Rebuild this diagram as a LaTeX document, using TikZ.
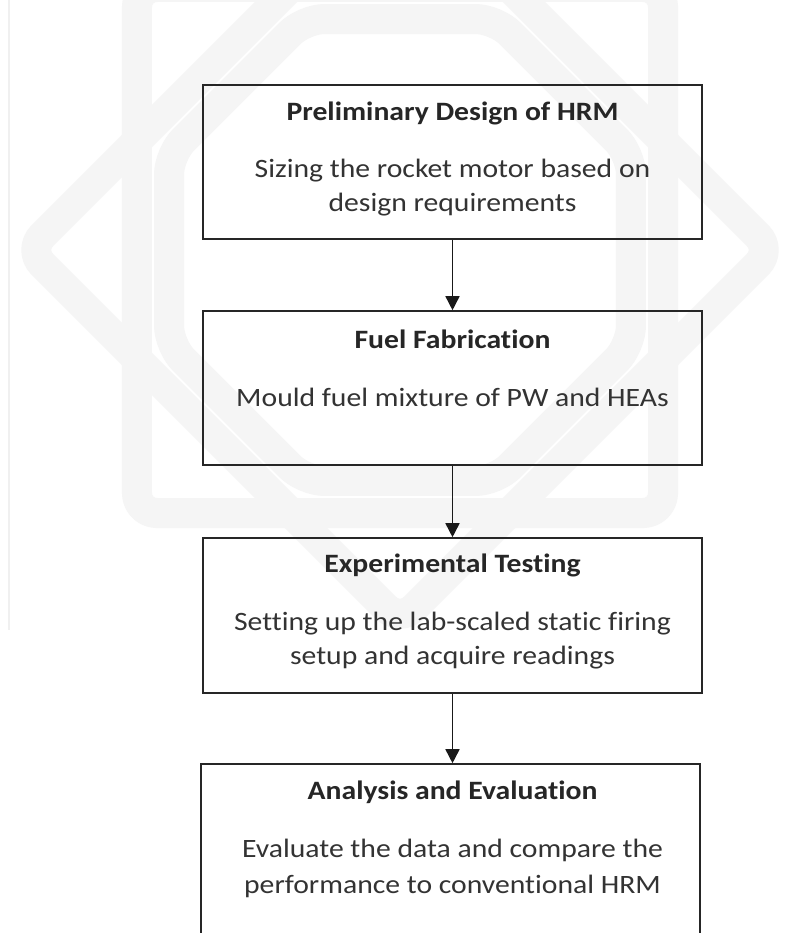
\documentclass[tikz,border=0pt]{standalone}
\usepackage{fontspec}
\setmainfont{Carlito}[FakeStretch=1.12, Ligatures=NoCommon]
\usetikzlibrary{arrows.meta,positioning}

\tikzset{
  stage/.style={draw=black!85, line width=1.6pt, minimum width=499pt, minimum height=154pt, inner sep=0pt},
  heading/.style={font=\fontsize{26.5}{33}\selectfont\bfseries, text=black!85, inner sep=0pt},
  note/.style={font=\fontsize{26.5}{34}\selectfont, text=black!80, align=center, inner sep=0pt},
  flow/.style={->, line width=1.6pt, draw=black!90, >={Triangle[length=14pt,width=14pt]}},
  watermark/.style={draw=black!4, line width=30pt, line join=round, rounded corners=20pt}
}

\begin{document}
\begin{tikzpicture}[x=1pt,y=-1pt]
    \clip (0,0) rectangle (790,933);
    \fill[white] (0,0) rectangle (790,933);

    % faint logo behind the chart
    \begin{scope}[shift={(400,250)}]
        \draw[watermark] (0:372) -- (90:372) -- (180:372) -- (270:372) -- cycle;
        \draw[watermark] (45:372) -- (135:372) -- (225:372) -- (315:372) -- cycle;
        \draw[watermark] (22.5:250) \foreach \a in {67.5,112.5,...,337.5} { -- (\a:250) } -- cycle;
    \end{scope}
    \draw[black!6, line width=1.5pt] (9,0) -- (9,630);

    % the four stages
    \node[stage] (design) at (452.5,162) {};
    \node[heading] (designT) at (452.5,113) {Preliminary Design of HRM};
    \node[note] (designN) at (452.5,188) {Sizing the rocket motor based on\\design requirements};

    \node[stage] (fuel) at (452.5,388) {};
    \node[heading] (fuelT) at (452.5,339) {Fuel Fabrication};
    \node[note] (fuelN) at (452.5,397) {Mould fuel mixture of PW and HEAs};

    \node[stage, minimum height=155pt] (test) at (452.5,615.5) {};
    \node[heading] (testT) at (452.5,565) {Experimental Testing};
    \node[note] (testN) at (452.5,641) {Setting up the lab-scaled static firing\\setup and acquire readings};

    \node[stage, minimum width=499pt, minimum height=220pt] (eval) at (450.5,874) {};
    \node[heading] (evalT) at (452.5,792) {Analysis and Evaluation};
    \node[note, font=\fontsize{26.5}{36}\selectfont] (evalN) at (452.5,868) {Evaluate the data and compare the\\performance to conventional HRM};

    \draw[flow] (design) -- (fuel);
    \draw[flow] (fuel) -- (test);
    \draw[flow] (test.south) -- (test.south |- eval.north);
\end{tikzpicture}
\end{document}
